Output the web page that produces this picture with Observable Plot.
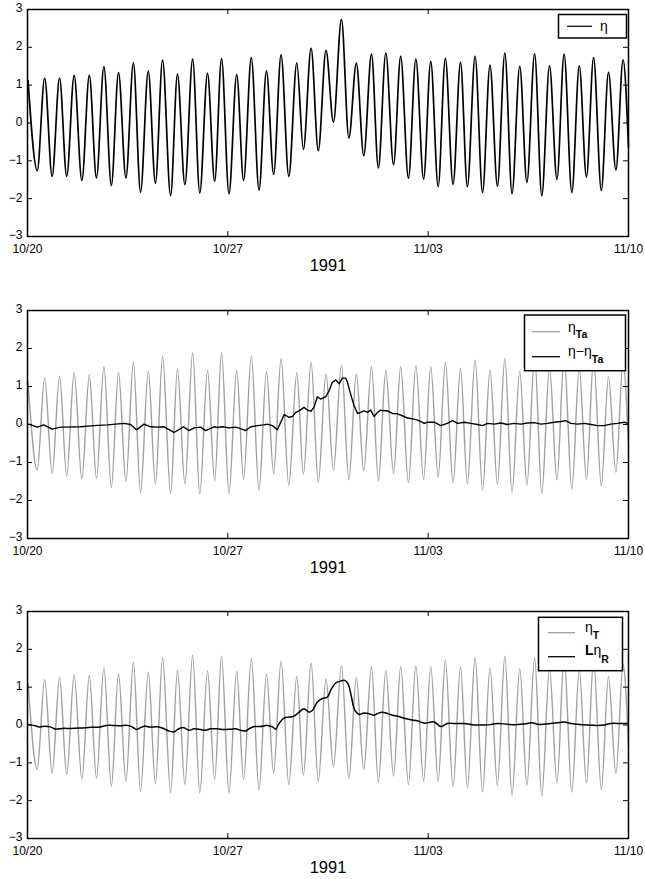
<!DOCTYPE html>
<html><head><meta charset="utf-8">
<script src="https://cdn.jsdelivr.net/npm/d3@7"></script>
<script src="https://cdn.jsdelivr.net/npm/@observablehq/plot@0.6"></script>
<style>
body{margin:0;background:#fff}
#chart svg{display:block}
</style>
</head><body><div id="chart"></div>
<script>
// ---- axis labels ----
const tickDays = [0, 7, 14, 21];
const tickLabels = ["10/20", "10/27", "11/03", "11/10"];
const yTicks = [-3, -2, -1, 0, 1, 2, 3];
const yearLabel = "1991";

// ---- times (days after 10/20 00:00) of the tidal highs and lows ----
const extremaDays = [0.02,0.34,0.60,0.86,1.12,1.37,1.63,1.90,2.16,2.41,
  2.67,2.93,3.18,3.44,3.70,3.95,4.22,4.47,4.72,5.00,
  5.24,5.50,5.77,6.02,6.29,6.54,6.78,7.04,7.31,7.55,
  7.82,8.09,8.35,8.60,8.86,9.13,9.41,9.64,9.91,10.16,
  10.43,10.69,10.97,11.23,11.49,11.75,12.02,12.26,12.52,12.79,
  13.04,13.31,13.57,13.84,14.09,14.35,14.60,14.87,15.13,15.37,
  15.64,15.90,16.16,16.42,16.68,16.93,17.20,17.45,17.72,17.97,
  18.24,18.50,18.75,19.02,19.28,19.53,19.78,20.05,20.30,20.56,
  20.81,21.00];

// eta (top panel)
const eta = [1.12,-1.26,1.19,-1.41,1.19,-1.41,1.26,-1.52,1.26,-1.45,
  1.49,-1.65,1.33,-1.45,1.59,-1.83,1.37,-1.59,1.66,-1.92,
  1.29,-1.63,1.69,-1.85,1.31,-1.54,1.70,-1.87,1.28,-1.52,
  1.73,-1.77,1.38,-1.36,1.80,-1.41,1.59,-0.70,1.97,-0.73,
  1.92,0.02,2.74,-0.40,1.58,-0.86,1.82,-1.19,1.85,-1.10,
  1.76,-1.46,1.69,-1.48,1.63,-1.68,1.71,-1.62,1.60,-1.68,
  1.76,-1.84,1.53,-1.67,1.85,-1.87,1.50,-1.57,1.83,-1.92,
  1.51,-1.49,1.82,-1.84,1.51,-1.43,1.73,-1.78,1.34,-1.24,
  1.67,-0.64];

// eta_Ta (middle panel, gray)
const etaTa = [1.11,-1.20,1.22,-1.29,1.27,-1.35,1.36,-1.44,1.31,-1.42,
  1.52,-1.66,1.37,-1.50,1.64,-1.79,1.40,-1.57,1.79,-1.82,
  1.46,-1.57,1.88,-1.83,1.42,-1.48,1.88,-1.81,1.42,-1.44,
  1.80,-1.73,1.39,-1.29,1.73,-1.60,1.36,-1.31,1.64,-1.53,
  1.33,-1.20,1.57,-1.46,1.33,-1.22,1.53,-1.48,1.42,-1.29,
  1.52,-1.53,1.55,-1.44,1.52,-1.38,1.64,-1.55,1.49,-1.57,
  1.70,-1.73,1.44,-1.57,1.74,-1.79,1.40,-1.59,1.80,-1.81,
  1.50,-1.46,1.78,-1.70,1.48,-1.44,1.72,-1.61,1.26,-1.26,
  1.65,-0.60];

// eta_T (bottom panel, gray)
const etaT = [1.11,-1.18,1.20,-1.27,1.25,-1.31,1.33,-1.43,1.31,-1.40,
  1.51,-1.62,1.35,-1.48,1.66,-1.75,1.40,-1.55,1.77,-1.79,
  1.45,-1.57,1.84,-1.79,1.43,-1.44,1.81,-1.79,1.42,-1.44,
  1.75,-1.71,1.35,-1.27,1.69,-1.57,1.28,-1.33,1.64,-1.49,
  1.22,-1.11,1.57,-1.42,1.25,-1.18,1.55,-1.52,1.43,-1.35,
  1.55,-1.57,1.57,-1.48,1.55,-1.48,1.71,-1.64,1.55,-1.66,
  1.79,-1.77,1.51,-1.59,1.82,-1.86,1.49,-1.59,1.77,-1.88,
  1.50,-1.53,1.77,-1.77,1.45,-1.53,1.72,-1.71,1.28,-1.28,
  1.60,-0.58];

// eta - eta_Ta (middle panel, black)
const residDays = [0.05,0.34,0.57,0.86,1.15,1.38,1.85,2.32,2.79,3.08,3.37,3.60,3.81,4.07,4.30,4.53,4.77,5.12,5.45,5.64,5.82,6.05,6.22,6.40,6.52,6.63,6.81,7.04,7.27,7.45,7.62,7.80,8.03,8.26,8.38,8.56,8.73,8.85,8.97,9.14,9.26,9.37,9.49,9.66,9.78,9.90,10.01,10.13,10.24,10.42,10.54,10.65,10.77,10.89,11.00,11.12,11.18,11.29,11.41,11.53,11.64,11.76,11.88,11.99,12.11,12.23,12.34,12.46,12.58,12.75,12.93,13.10,13.28,13.51,13.68,13.86,13.97,14.21,14.44,14.67,14.85,15.03,15.26,15.49,15.72,15.90,16.07,16.31,16.54,16.77,17.00,17.24,17.47,17.70,17.94,18.17,18.40,18.64,18.81,18.99,19.22,19.45,19.69,19.92,20.15,20.38,20.62,20.85,20.99];
const residVals = [0.01,-0.07,-0.01,-0.12,-0.07,-0.07,-0.06,-0.03,-0.01,0.01,0.03,0.00,-0.14,0.01,-0.06,-0.07,-0.06,-0.21,-0.06,-0.16,-0.09,-0.07,-0.16,-0.10,-0.06,-0.08,-0.06,-0.09,-0.07,-0.11,-0.16,-0.06,-0.03,-0.01,0.01,-0.03,-0.14,0.06,0.26,0.19,0.21,0.32,0.36,0.45,0.38,0.35,0.45,0.73,0.67,0.73,0.89,1.11,1.17,1.07,1.22,1.22,1.11,0.80,0.50,0.29,0.32,0.36,0.32,0.38,0.21,0.32,0.38,0.36,0.36,0.29,0.28,0.23,0.17,0.14,0.10,0.03,0.06,0.06,-0.03,0.03,0.10,0.03,0.06,0.03,0.00,-0.03,0.03,0.01,0.04,0.00,0.03,0.01,0.04,0.05,0.01,0.03,0.06,0.08,0.10,0.03,0.01,0.03,0.00,-0.03,-0.03,0.01,0.03,0.06,0.03];

// L eta_R (bottom panel, black)
const lowDays = [0.05,0.22,0.40,0.63,0.80,0.98,1.21,1.50,1.85,2.20,2.55,2.79,2.96,3.25,3.48,3.66,3.81,3.95,4.09,4.24,4.42,4.59,4.77,4.94,5.12,5.29,5.47,5.64,5.82,6.05,6.22,6.40,6.63,6.87,7.10,7.27,7.45,7.62,7.74,7.92,8.15,8.38,8.56,8.67,8.79,8.97,9.14,9.31,9.49,9.66,9.84,9.96,10.13,10.30,10.48,10.59,10.77,10.94,11.08,11.20,11.32,11.43,11.59,11.76,11.94,12.11,12.28,12.40,12.58,12.75,12.93,13.16,13.39,13.63,13.86,14.21,14.44,14.67,14.91,15.26,15.61,15.96,16.19,16.42,16.77,17.12,17.47,17.64,17.82,18.05,18.28,18.51,18.75,18.98,19.21,19.56,19.91,20.15,20.38,20.73,20.99];
const lowVals = [0.01,-0.01,-0.05,-0.03,-0.05,-0.11,-0.09,-0.09,-0.08,-0.06,-0.05,-0.01,-0.01,-0.02,-0.01,-0.05,-0.12,-0.07,-0.03,-0.05,-0.05,-0.05,-0.10,-0.16,-0.18,-0.10,-0.07,-0.14,-0.10,-0.12,-0.14,-0.10,-0.10,-0.12,-0.11,-0.10,-0.14,-0.16,-0.10,-0.04,-0.04,-0.01,-0.05,-0.11,0.04,0.19,0.21,0.23,0.34,0.43,0.34,0.39,0.61,0.70,0.74,0.91,1.11,1.16,1.18,1.09,0.74,0.40,0.28,0.32,0.30,0.26,0.32,0.34,0.30,0.26,0.23,0.18,0.14,0.11,0.05,0.08,-0.04,0.04,0.04,0.04,0.00,0.00,0.01,0.04,0.02,0.01,0.04,0.06,0.02,0.02,0.04,0.06,0.08,0.04,0.02,0.00,-0.01,0.00,0.04,0.04,0.04];

// ---- build tables ----
const zip = (xs, ys) => xs.map((t, i) => ({t, v: ys[i]}));
const etaData = zip(extremaDays, eta);
const etaTaData = zip(extremaDays, etaTa);
const etaTData = zip(extremaDays, etaT);
const residData = zip(residDays, residVals);
const lowData = zip(lowDays, lowVals);

const W = 645, ML = 27, MR = 17;
const GRAY = "#a0a0a0";
const FONT = "'Liberation Sans', Arial, Helvetica, sans-serif";

function panel(height, mt, mb, lines) {
  const innerH = height - mt - mb, innerW = W - ML - MR;
  const inner = tickDays.slice(1, -1), innerY = yTicks.slice(1, -1);
  return Plot.plot({
    width: W, height, marginLeft: ML, marginRight: MR, marginTop: mt, marginBottom: mb,
    style: {fontSize: "12px", fontFamily: FONT, color: "black", background: "white", overflow: "visible"},
    x: {domain: [0, 21]},
    y: {domain: [-3, 3]},
    marks: [
      ...lines,
      Plot.tickX(inner, {x: d => d, insetTop: innerH - 5, stroke: "black", strokeWidth: 1}),
      Plot.tickX(inner, {x: d => d, insetBottom: innerH - 5, stroke: "black", strokeWidth: 1}),
      Plot.tickY(innerY, {y: d => d, insetRight: innerW - 5, stroke: "black", strokeWidth: 1}),
      Plot.tickY(innerY, {y: d => d, insetLeft: innerW - 5, stroke: "black", strokeWidth: 1}),
      Plot.frame({stroke: "black", strokeWidth: 1.5}),
      Plot.axisX({ticks: tickDays, tickFormat: d => tickLabels[tickDays.indexOf(d)], tickSize: 0, tickPadding: 8, label: null, fontSize: 12}),
      Plot.axisY({ticks: yTicks, tickFormat: d => d < 0 ? "\u2212" + Math.abs(d) : String(d), tickSize: 0, tickPadding: 5, dy: -1, label: null, fontSize: 12}),
      Plot.text([yearLabel], {text: d => d, frameAnchor: "bottom", dy: 29, lineAnchor: "middle", fontSize: 16.5})
    ]
  });
}

function legendBox(svg, box, rows) {
  const g = d3.select(svg).append("g").attr("font-family", FONT).attr("text-anchor", "start");
  g.append("rect").attr("x", box[0]).attr("y", box[1]).attr("width", box[2]).attr("height", box[3])
    .attr("fill", "white").attr("stroke", "black").attr("stroke-width", 1.5);
  for (const r of rows) {
    g.append("line").attr("x1", r.lx[0]).attr("x2", r.lx[1]).attr("y1", r.ly).attr("y2", r.ly)
      .attr("stroke", r.color).attr("stroke-width", r.w);
    const t = g.append("text").attr("x", r.tx).attr("y", r.ty).attr("font-size", 14)
      .attr("fill", "black").attr("text-anchor", "start");
    for (const p of r.parts) {
      const s = t.append("tspan").text(p.text);
      if (p.bold) s.attr("font-weight", "bold");
      if (p.size) s.attr("font-size", p.size);
      if (p.dy) s.attr("dy", p.dy);
    }
  }
}

const chart = document.getElementById("chart");

const p1 = panel(293, 9, 57, [
  Plot.line(etaData, {x: "t", y: "v", curve: "monotone-x", stroke: "black", strokeWidth: 1.7})
]);
legendBox(p1, [558.5, 14.5, 68, 23.5], [
  {lx: [567, 592], ly: 26.3, color: "black", w: 1.2, tx: 600, ty: 31, parts: [{text: "η"}]}
]);
chart.appendChild(p1);

const p2 = panel(293, 17, 48, [
  Plot.line(etaTaData, {x: "t", y: "v", curve: "monotone-x", stroke: GRAY, strokeWidth: 1.4}),
  Plot.line(residData, {x: "t", y: "v", stroke: "black", strokeWidth: 1.4})
]);
legendBox(p2, [524.5, 22, 101, 55.7], [
  {lx: [532, 560], ly: 38.7, color: GRAY, w: 1.3, tx: 568, ty: 39,
   parts: [{text: "η"}, {text: "Ta", bold: true, size: 10.5, dy: 6}]},
  {lx: [532, 560], ly: 63.7, color: "black", w: 1.3, tx: 568, ty: 63,
   parts: [{text: "η−η"}, {text: "Ta", bold: true, size: 10.5, dy: 7}]}
]);
chart.appendChild(p2);

const p3 = panel(293, 25, 41, [
  Plot.line(etaTData, {x: "t", y: "v", curve: "monotone-x", stroke: GRAY, strokeWidth: 1.4}),
  Plot.line(lowData, {x: "t", y: "v", curve: "catmull-rom", stroke: "black", strokeWidth: 1.5})
]);
legendBox(p3, [538.5, 31.3, 84, 53.4], [
  {lx: [548, 575], ly: 46.7, color: GRAY, w: 1.3, tx: 585, ty: 46,
   parts: [{text: "η"}, {text: "T", bold: true, size: 10.5, dy: 7}]},
  {lx: [548, 575], ly: 70.7, color: "black", w: 1.3, tx: 585, ty: 69,
   parts: [{text: "L", bold: true, size: 14}, {text: "η"}, {text: "R", bold: true, size: 10.5, dy: 8}]}
]);
chart.appendChild(p3);
</script>
</body></html>
